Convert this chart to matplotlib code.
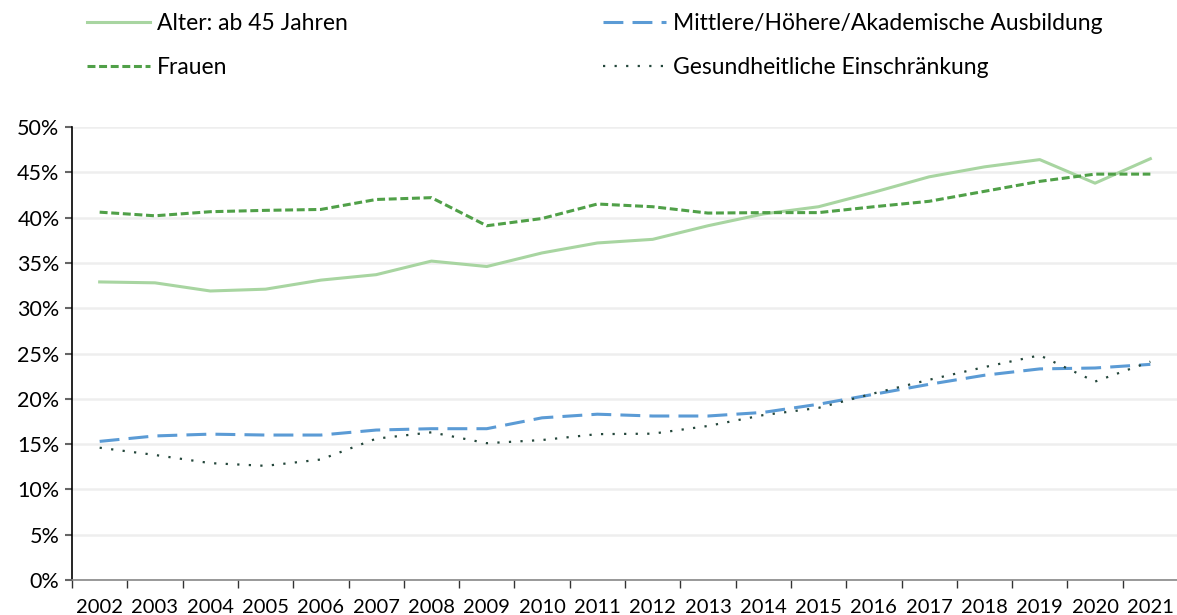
import numpy as np
import matplotlib.pyplot as plt
from matplotlib.ticker import FuncFormatter

plt.rcParams['font.family'] = ['Lato', 'DejaVu Sans']

years = [str(y) for y in range(2002, 2022)]

alter = [32.9, 32.8, 31.9, 32.1, 33.1, 33.7, 35.2, 34.6, 36.1, 37.2,
         37.6, 39.1, 40.4, 41.2, 42.8, 44.5, 45.6, 46.4, 43.8, 46.5]
frauen = [40.6, 40.2, 40.65, 40.8, 40.9, 42.0, 42.2, 39.1, 39.9, 41.5,
          41.2, 40.5, 40.55, 40.55, 41.2, 41.8, 42.9, 44.0, 44.8, 44.8]
ausbildung = [15.3, 15.9, 16.1, 16.0, 16.0, 16.55, 16.7, 16.7, 17.9, 18.3,
              18.1, 18.1, 18.5, 19.4, 20.5, 21.6, 22.6, 23.3, 23.4, 23.8]
gesundheit = [14.6, 13.8, 12.9, 12.6, 13.3, 15.6, 16.3, 15.1, 15.45, 16.1,
              16.15, 17.0, 18.2, 19.0, 20.6, 22.1, 23.5, 24.8, 21.9, 24.1]

fig = plt.figure(figsize=(11.77, 6.15), dpi=100)
ax = fig.add_axes([72/1177, 1-580/615, (1178-72)/1177, (580-127)/615])

x = np.arange(len(years))
l1, = ax.plot(x, alter, color='#a8d5a1', lw=2.2, label='Alter: ab 45 Jahren')
l2, = ax.plot(x, ausbildung, color='#5b9bd5', lw=2.2, dashes=(6.5, 3), label='Mittlere/Höhere/Akademische Ausbildung')
l3, = ax.plot(x, frauen, color='#50a048', lw=2.2, dashes=(2.6, 1.2), label='Frauen')
l4, = ax.plot(x, gesundheit, color='#23463a', lw=1.6, dashes=(1, 4.2), label='Gesundheitliche Einschränkung')

ax.set_xlim(-0.5, len(years)-0.5)
ax.set_ylim(0, 50)
ax.set_yticks(np.arange(0, 51, 5))
ax.yaxis.set_major_formatter(FuncFormatter(lambda v, p: f'{int(v)}%'))
ax.set_xticks(x)
ax.set_xticklabels(years)
ax.set_xticks(np.arange(-0.5, len(years), 1), minor=True)
ax.tick_params(axis='x', which='major', length=0, pad=13.5, labelsize=14.5)
ax.tick_params(axis='x', which='minor', length=6, color='#333333', width=1)
ax.tick_params(axis='y', length=5, color='#666666', width=1.5, pad=4, labelsize=15.5)

ax.grid(axis='y', color='#eeeeee', lw=1.8)
ax.set_axisbelow(True)
for s in ['top', 'right']:
    ax.spines[s].set_visible(False)
ax.spines['left'].set_color('black')
ax.spines['left'].set_linewidth(1.2)
ax.spines['bottom'].set_color('#888888')
ax.spines['bottom'].set_linewidth(1.2)

fig.legend([l1, l3, l2, l4], [l1.get_label(), l3.get_label(), l2.get_label(), l4.get_label()],
           ncol=2, loc='upper left', bbox_to_anchor=(87/1177, 1-13/615), frameon=False,
           fontsize=16.5, handlelength=2.75, handletextpad=0.3, columnspacing=11.15,
           labelspacing=1.0, borderpad=0, borderaxespad=0)

fig.savefig('out.png', dpi=100)
